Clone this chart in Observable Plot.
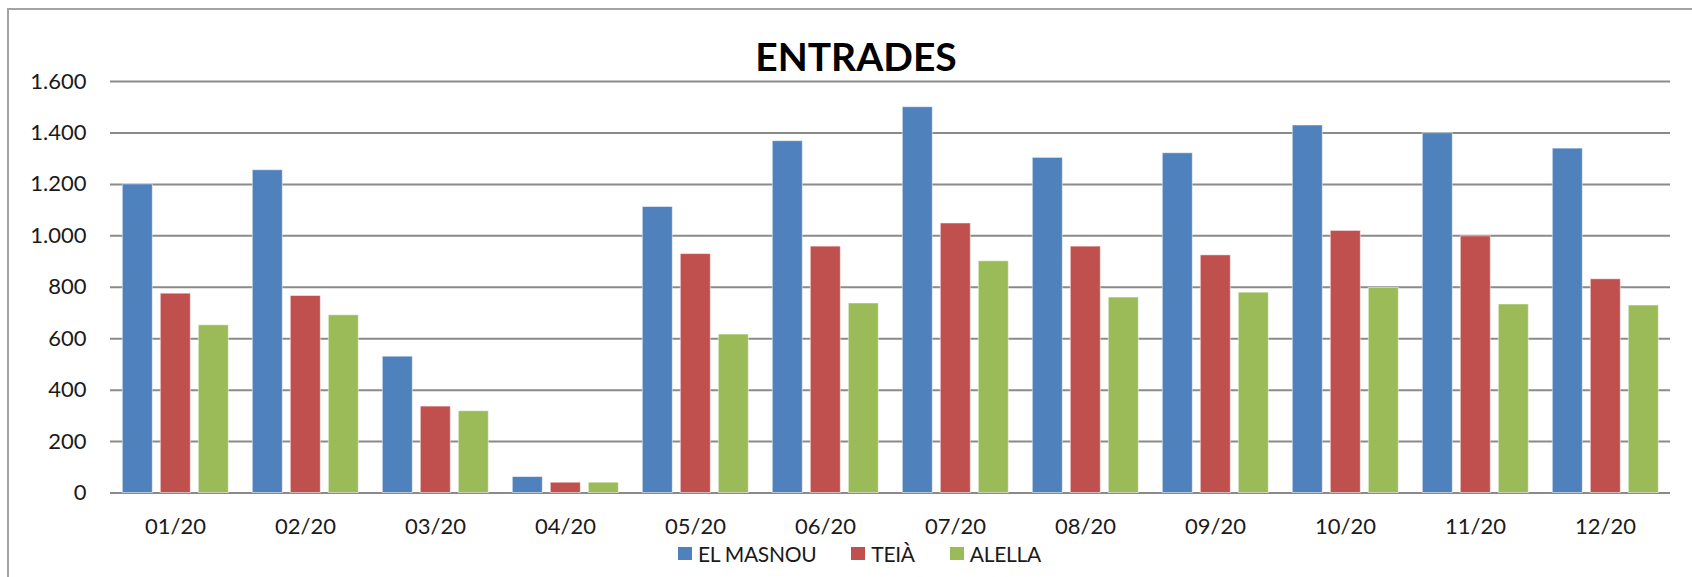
<!DOCTYPE html>
<html>
<head>
<meta charset="utf-8">
<script src="https://cdn.jsdelivr.net/npm/d3@7"></script>
<script src="https://cdn.jsdelivr.net/npm/@observablehq/plot@0.6"></script>
<style>
  html, body { margin: 0; padding: 0; background: #fff; }
  #page { position: relative; width: 1692px; height: 577px; overflow: hidden; font-family: Lato, "Open Sans", sans-serif; }
  #frame { position: absolute; left: 7px; top: 8px; width: 2000px; height: 1000px; border: 2px solid #a3a3a3; box-sizing: border-box; }
  #title { position: absolute; left: 0; width: 1712px; top: 37px; text-align: center; font-size: 39px; line-height: 39px; font-weight: 700; color: #000; }
  #chart { position: absolute; left: 0; top: 76px; }
  #legend { position: absolute; left: 678px; top: 542.5px; display: flex; align-items: center; font-size: 21px; line-height: 22px; letter-spacing: -0.3px; color: #1a1a1a; }
  .item { display: flex; align-items: center; margin-right: 35px; }
  .sw { width: 14px; height: 13px; margin-right: 6px; }
</style>
</head>
<body>
<div id="page">
  <div id="frame"></div>
  <div id="title">ENTRADES</div>
  <div id="chart"></div>
  <div id="legend"></div>
</div>
<script>
const months = ["01/20","02/20","03/20","04/20","05/20","06/20","07/20","08/20","09/20","10/20","11/20","12/20"];
const series = ["EL MASNOU","TEIÀ","ALELLA"];
const elMasnou = [1200,1255,530,62,1112,1368,1500,1303,1321,1429,1399,1339];
const teia     = [775,766,336,40,929,958,1048,958,924,1019,998,831];
const alella   = [652,691,318,40,616,737,901,760,779,797,733,729];
const colors = ["#4F81BD","#C0504D","#9BBB59"];
const yTicks = [0,200,400,600,800,1000,1200,1400,1600];

const valuesBySeries = [elMasnou, teia, alella];
const data = months.flatMap((m, i) => series.map((s, j) => ({month: m, series: s, value: valuesBySeries[j][i]})));

const fmt = d => d3.format(",")(d).replace(/,/g, ".");

const chart = Plot.plot({
  width: 1692,
  height: 461,
  marginLeft: 106.7,
  marginRight: 18,
  marginTop: 5,
  marginBottom: 44.5,
  style: {fontFamily: "Lato, 'Open Sans', sans-serif", fontSize: "22px", color: "#1a1a1a", background: "transparent", overflow: "visible"},
  fx: {domain: months, padding: 0, axis: "bottom", tickSize: 0, tickPadding: 25, label: null},
  x: {domain: series, paddingInner: 0.2, paddingOuter: 0.29, axis: null},
  y: {domain: [0, 1600], ticks: yTicks, tickSize: 0, tickPadding: 24, tickFormat: fmt, label: null},
  color: {domain: series, range: colors},
  marks: [
    Plot.ruleY(yTicks, {stroke: "#8a8a8a", strokeWidth: 2}),
    Plot.barY(data, {fx: "month", x: "series", y: "value", fill: "series", stroke: "#ffffff", strokeOpacity: 0.5, strokeWidth: 1})
  ]
});
document.getElementById("chart").appendChild(chart);

const legend = document.getElementById("legend");
series.forEach((s, i) => {
  const item = document.createElement("div");
  item.className = "item";
  const sw = document.createElement("div");
  sw.className = "sw";
  sw.style.background = colors[i];
  const t = document.createElement("span");
  t.textContent = s;
  item.appendChild(sw);
  item.appendChild(t);
  legend.appendChild(item);
});
</script>
</body>
</html>
